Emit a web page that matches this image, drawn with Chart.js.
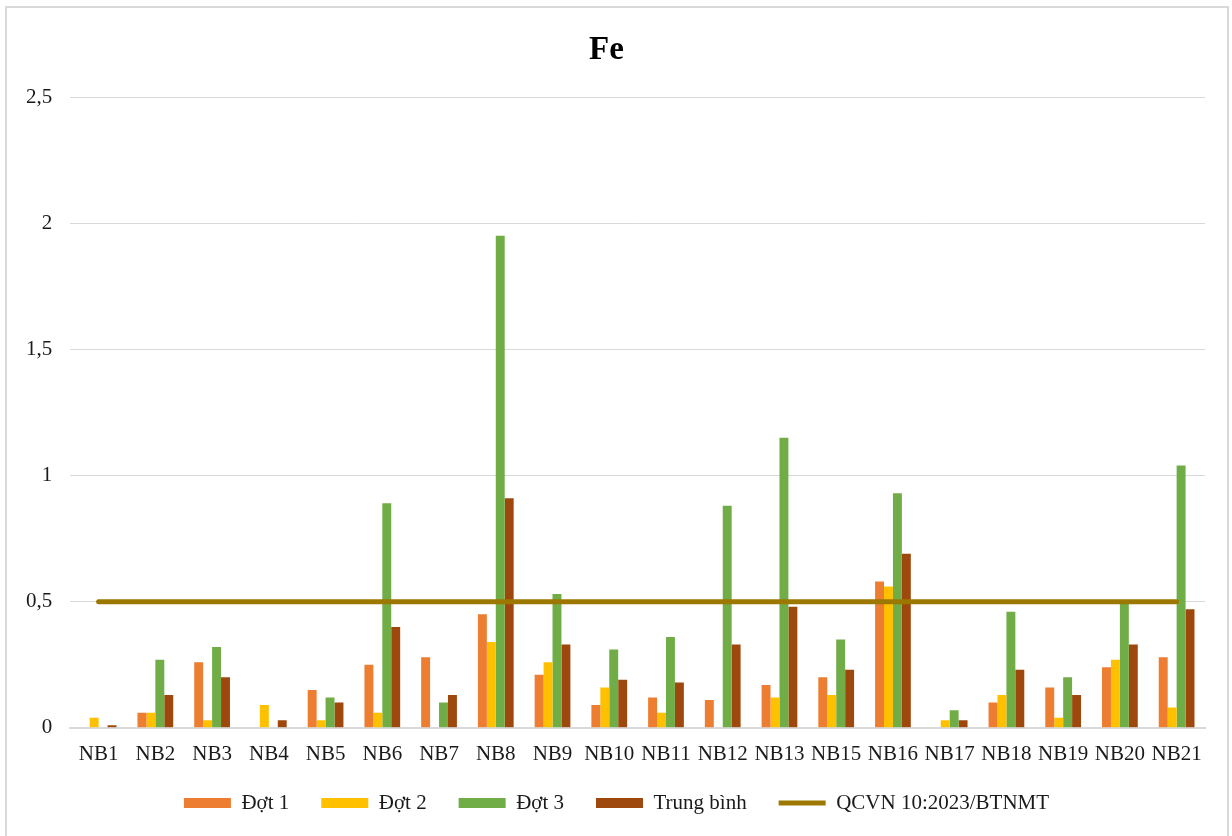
<!DOCTYPE html>
<html>
<head>
<meta charset="utf-8">
<script src="https://cdn.jsdelivr.net/npm/chart.js@4.4.1/dist/chart.umd.min.js"></script>
<style>
  html, body { margin: 0; padding: 0; background: #ffffff; overflow: hidden; }
  #wrap { position: relative; width: 1232px; height: 836px; }
  #frame { position: absolute; left: 5px; top: 6px; width: 1220px; height: 840px; border: 2px solid #d9d9d9; pointer-events: none; }
  canvas { position: absolute; left: 0; top: 0; }
</style>
</head>
<body>
<div id="wrap">
  <canvas id="c" width="1232" height="836"></canvas>
  <div id="frame"></div>
</div>
<script>
const categories = ['NB1','NB2','NB3','NB4','NB5','NB6','NB7','NB8','NB9','NB10','NB11','NB12','NB13','NB15','NB16','NB17','NB18','NB19','NB20','NB21'];
const dot1 = [0, 0.06, 0.26, 0, 0.15, 0.25, 0.28, 0.45, 0.21, 0.09, 0.12, 0.11, 0.17, 0.20, 0.58, 0, 0.10, 0.16, 0.24, 0.28];
const dot2 = [0.04, 0.06, 0.03, 0.09, 0.03, 0.06, 0, 0.34, 0.26, 0.16, 0.06, 0, 0.12, 0.13, 0.56, 0.03, 0.13, 0.04, 0.27, 0.08];
const dot3 = [0, 0.27, 0.32, 0, 0.12, 0.89, 0.10, 1.95, 0.53, 0.31, 0.36, 0.88, 1.15, 0.35, 0.93, 0.07, 0.46, 0.20, 0.50, 1.04];
const trungBinh = [0.01, 0.13, 0.20, 0.03, 0.10, 0.40, 0.13, 0.91, 0.33, 0.19, 0.18, 0.33, 0.48, 0.23, 0.69, 0.03, 0.23, 0.13, 0.33, 0.47];
const qcvn = [0.5, 0.5, 0.5, 0.5, 0.5, 0.5, 0.5, 0.5, 0.5, 0.5, 0.5, 0.5, 0.5, 0.5, 0.5, 0.5, 0.5, 0.5, 0.5, 0.5];
const yTicks = [0, 0.5, 1, 1.5, 2, 2.5];

const FONT = "'Liberation Serif', 'Times New Roman', serif";
const TXT = '#1a1a1a';
const LEGEND_PAD = 32;
const LEGEND_FONT = 21;

function bar(label, data, color) {
  return {
    type: 'bar', label: label, data: data,
    backgroundColor: color, borderWidth: 0,
    pointStyle: 'rect', order: 1,
    categoryPercentage: 0.63, barPercentage: 1.0
  };
}

const legendPlace = {
  id: 'legendPlace',
  afterLayout(chart) {
    const lg = chart.legend;
    if (!lg) return;
    const top = 803 - LEGEND_PAD - LEGEND_FONT / 2;
    lg.top = top;
    lg.bottom = top + 70;
    lg.height = 70;
    lg.left += 10;
    lg.right += 10;
  }
};

new Chart(document.getElementById('c'), {
  type: 'bar',
  data: {
    labels: categories,
    datasets: [
      bar('Đợt 1', dot1, '#ED7D31'),
      bar('Đợt 2', dot2, '#FFC000'),
      bar('Đợt 3', dot3, '#70AD47'),
      bar('Trung bình', trungBinh, '#9E480E'),
      {
        type: 'line', label: 'QCVN 10:2023/BTNMT', data: qcvn,
        borderColor: '#9C7800', backgroundColor: '#9C7800',
        borderWidth: 5, borderCapStyle: 'round',
        pointRadius: 0, pointHoverRadius: 0, pointStyle: 'line',
        fill: false, order: 0
      }
    ]
  },
  plugins: [legendPlace],
  options: {
    responsive: false,
    animation: false,
    layout: { padding: { left: 8, right: 27, top: 10, bottom: 15 } },
    plugins: {
      title: {
        display: true, text: 'Fe', color: '#000',
        font: { family: FONT, size: 33, weight: 'bold' },
        padding: { top: 21, bottom: 26.5 }
      },
      legend: {
        position: 'bottom',
        maxHeight: 40,
        labels: {
          usePointStyle: true, pointStyleWidth: 47, boxHeight: 10,
          padding: LEGEND_PAD, color: TXT,
          font: { family: FONT, size: LEGEND_FONT },
          sort: (a, b) => a.datasetIndex - b.datasetIndex
        }
      },
      tooltip: { enabled: false }
    },
    scales: {
      x: {
        grid: { display: false, drawTicks: false },
        border: { display: true, color: '#d9d9d9', width: 2 },
        ticks: { color: TXT, font: { family: FONT, size: 21 }, padding: 14, maxRotation: 0, autoSkip: false }
      },
      y: {
        min: 0, max: 2.5,
        afterBuildTicks: (scale) => { scale.ticks = yTicks.map(v => ({ value: v })); },
        grid: { color: '#d9d9d9', lineWidth: 1, drawTicks: false },
        border: { display: false },
        ticks: {
          color: TXT, font: { family: FONT, size: 21 }, padding: 18,
          callback: (v) => String(v).replace('.', ',')
        }
      }
    }
  }
});
</script>
</body>
</html>
